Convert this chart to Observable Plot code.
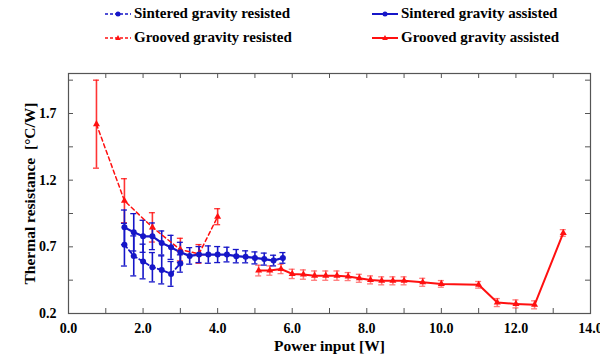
<!DOCTYPE html>
<html><head><meta charset="utf-8">
<script src="https://cdn.jsdelivr.net/npm/d3@7"></script>
<script src="https://cdn.jsdelivr.net/npm/@observablehq/plot@0.6"></script>
<style>
body{margin:0;background:#fff;font-family:"Liberation Serif","Times New Roman",serif;}
#wrap{position:relative;width:600px;height:360px;overflow:hidden;background:#fff;}
#legend{position:absolute;left:0;top:0;width:600px;height:50px;}
.item{position:absolute;display:flex;align-items:center;font-weight:bold;font-size:15px;white-space:nowrap;color:#000;}
.item svg{margin-right:2px;}
#chart{position:absolute;left:0;top:50px;}
</style></head><body>
<div id="wrap"><div id="legend"></div><div id="chart"></div></div>
<script>
// ---- data ----
const seriesNames = ["Sintered gravity resisted","Sintered gravity assisted","Grooved gravity resisted","Grooved gravity assisted"];
const xAxisTitle = "Power input [W]";
const yAxisTitle = "Thermal resistance  [°C/W]";

const sinteredResistedX   = [1.5, 1.75, 2.0, 2.25, 2.5, 2.75, 3.0];
const sinteredResistedY   = [0.716, 0.632, 0.590, 0.547, 0.527, 0.497, 0.575];
const sinteredResistedErr = [0.16, 0.15, 0.13, 0.11, 0.105, 0.093, 0.065];

const sinteredAssistedX   = [1.5, 1.75, 2.0, 2.25, 2.5, 2.75, 3.0, 3.25, 3.5, 3.75, 4.0, 4.25, 4.5, 4.75, 5.0, 5.25, 5.5, 5.75];
const sinteredAssistedY   = [0.846, 0.809, 0.779, 0.779, 0.729, 0.696, 0.659, 0.632, 0.642, 0.642, 0.642, 0.642, 0.630, 0.625, 0.617, 0.608, 0.597, 0.617];
const sinteredAssistedErr = [0.13, 0.14, 0.12, 0.10, 0.09, 0.09, 0.075, 0.062, 0.06, 0.065, 0.06, 0.055, 0.05, 0.045, 0.045, 0.045, 0.04, 0.04];

const groovedResistedX   = [0.75, 1.5, 2.25, 3.0, 3.5, 4.0];
const groovedResistedY   = [1.62, 1.046, 0.846, 0.679, 0.647, 0.926];
const groovedResistedErr = [0.33, 0.165, 0.11, 0.085, 0.07, 0.06];

const groovedAssistedX   = [5.1, 5.4, 5.7, 6.0, 6.3, 6.6, 6.9, 7.2, 7.5, 7.8, 8.1, 8.4, 8.7, 9.0, 9.5, 10.0, 11.0, 11.5, 12.0, 12.5, 13.27];
const groovedAssistedY   = [0.522, 0.522, 0.534, 0.497, 0.492, 0.484, 0.484, 0.484, 0.477, 0.464, 0.452, 0.445, 0.445, 0.445, 0.434, 0.422, 0.415, 0.282, 0.272, 0.265, 0.804];
const groovedAssistedErr = [0.04, 0.035, 0.035, 0.035, 0.035, 0.035, 0.035, 0.035, 0.03, 0.03, 0.03, 0.03, 0.03, 0.03, 0.03, 0.025, 0.025, 0.03, 0.03, 0.03, 0.025];

const xTickLabels = [0, 2, 4, 6, 8, 10, 12, 14];
const xMinorTicks = [1, 2, 3, 4, 5, 6, 7, 8, 9, 10, 11, 12, 13];
const yTickLabels = [0.2, 0.7, 1.2, 1.7];
const yMinorTicks = [0.45, 0.7, 0.95, 1.2, 1.45, 1.7, 1.95];

const blue = "#1616c8", red = "#ff1010";

function rows(xs, ys, es) { return xs.map((x, i) => ({x, y: ys[i], e: es[i]})); }
const sR = rows(sinteredResistedX, sinteredResistedY, sinteredResistedErr);
const sA = rows(sinteredAssistedX, sinteredAssistedY, sinteredAssistedErr);
const gR = rows(groovedResistedX, groovedResistedY, groovedResistedErr);
const gA = rows(groovedAssistedX, groovedAssistedY, groovedAssistedErr);

function errMarks(data, color, op) {
  return [
    Plot.ruleX(data, {x: "x", y1: d => d.y - d.e, y2: d => d.y + d.e, stroke: color, strokeWidth: 1.6, strokeOpacity: op}),
    Plot.ruleY(data, {y: d => d.y + d.e, x1: "x", x2: "x", insetLeft: -3, insetRight: -3, stroke: color, strokeWidth: 1.3, strokeOpacity: op}),
    Plot.ruleY(data, {y: d => d.y - d.e, x1: "x", x2: "x", insetLeft: -3, insetRight: -3, stroke: color, strokeWidth: 1.3, strokeOpacity: op})
  ];
}

const W = 600, H = 310, mL = 68, mR = 10, mT = 23, mB = 47;
const innerW = W - mL - mR, innerH = H - mT - mB;

const chart = Plot.plot({
  width: W, height: H,
  marginLeft: mL, marginRight: mR, marginTop: mT, marginBottom: mB,
  style: {fontFamily: "'Liberation Serif','Times New Roman',serif", fontWeight: "bold", fontSize: "14px", color: "#000", background: "#fff", overflow: "hidden"},
  x: {domain: [0, 14]},
  y: {domain: [0.2, 2.0]},
  marks: [
    Plot.axisX({ticks: xTickLabels, tickSize: 0, tickPadding: 10, tickFormat: d3.format(".1f"), label: null, fontSize: 14}),
    Plot.axisY({ticks: yTickLabels, tickSize: 0, tickPadding: 12, tickFormat: d3.format(".1f"), label: null, fontSize: 14}),
    // axis titles
    Plot.text([xAxisTitle], {text: d => d, frameAnchor: "bottom", dy: 37, textAnchor: "middle", fontSize: 15.5, fontWeight: "bold", fill: "#000"}),
    Plot.text([yAxisTitle], {text: d => d, frameAnchor: "left", dx: -38, textAnchor: "middle", rotate: -90, fontSize: 15.5, fontWeight: "bold", fill: "#000"}),
    // inward ticks
    Plot.tickX(xMinorTicks, {x: d => d, insetTop: innerH - 5, stroke: "#555"}),
    Plot.tickX(xMinorTicks, {x: d => d, insetBottom: innerH - 5, stroke: "#555"}),
    Plot.tickY(yMinorTicks, {y: d => d, insetRight: innerW - 5, stroke: "#555"}),
    Plot.tickY(yMinorTicks, {y: d => d, insetLeft: innerW - 5, stroke: "#555"}),
    Plot.frame({stroke: "#555", strokeWidth: 1.2}),
    // error bars
    ...errMarks(gR, red, 0.85),
    ...errMarks(gA, red, 0.55),
    ...errMarks(sR, blue, 1),
    ...errMarks(sA, blue, 1),
    // lines
    Plot.line(gR, {x: "x", y: "y", stroke: red, strokeWidth: 1.5, strokeDasharray: "4,3"}),
    Plot.line(gA, {x: "x", y: "y", stroke: red, strokeWidth: 2}),
    Plot.line(sR, {x: "x", y: "y", stroke: blue, strokeWidth: 1.8, strokeDasharray: "4,3"}),
    Plot.line(sA, {x: "x", y: "y", stroke: blue, strokeWidth: 2.2}),
    // markers
    Plot.dot(gR, {x: "x", y: "y", symbol: "triangle", r: 2.6, fill: red}),
    Plot.dot(gA, {x: "x", y: "y", symbol: "triangle", r: 2.6, fill: red}),
    Plot.dot(sR, {x: "x", y: "y", r: 3, fill: blue}),
    Plot.dot(sA, {x: "x", y: "y", r: 3, fill: blue})
  ]
});
document.getElementById("chart").appendChild(chart);

// legend
const legendItems = [
  {name: seriesNames[0], color: blue, dash: "3,2", sym: "circle", left: 104, top: 5},
  {name: seriesNames[1], color: blue, dash: null, sym: "circle", left: 371, top: 5},
  {name: seriesNames[2], color: red, dash: "3,2", sym: "triangle", left: 104, top: 29},
  {name: seriesNames[3], color: red, dash: null, sym: "triangle", left: 371, top: 29}
];
const legend = document.getElementById("legend");
for (const it of legendItems) {
  const div = document.createElement("div");
  div.className = "item";
  div.style.left = it.left + "px";
  div.style.top = it.top + "px";
  const ns = "http://www.w3.org/2000/svg";
  const s = document.createElementNS(ns, "svg");
  s.setAttribute("width", 28); s.setAttribute("height", 12);
  const l = document.createElementNS(ns, "line");
  l.setAttribute("x1", 1); l.setAttribute("x2", 27); l.setAttribute("y1", 6); l.setAttribute("y2", 6);
  l.setAttribute("stroke", it.color); l.setAttribute("stroke-width", it.dash ? 1.5 : 2);
  if (it.dash) l.setAttribute("stroke-dasharray", it.dash);
  s.appendChild(l);
  if (it.sym === "circle") {
    const c = document.createElementNS(ns, "circle");
    c.setAttribute("cx", 14); c.setAttribute("cy", 6); c.setAttribute("r", 2.5); c.setAttribute("fill", it.color);
    s.appendChild(c);
  } else {
    const p = document.createElementNS(ns, "path");
    p.setAttribute("d", "M14,3 L16.8,8 L11.2,8 Z"); p.setAttribute("fill", it.color);
    s.appendChild(p);
  }
  div.appendChild(s);
  const t = document.createElement("span");
  t.textContent = it.name;
  div.appendChild(t);
  legend.appendChild(div);
}
</script>
</body></html>
